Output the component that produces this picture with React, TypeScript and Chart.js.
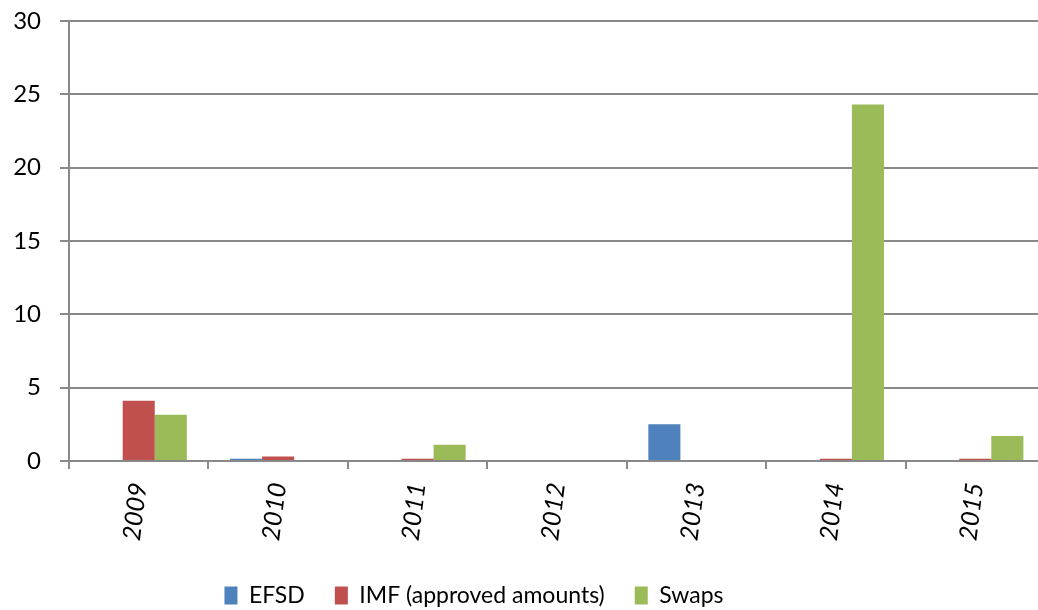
import React, { useEffect, useRef } from "react";
import { Chart, registerables } from "chart.js";

Chart.register(...registerables);

const categories = ["2009", "2010", "2011", "2012", "2013", "2014", "2015"];
const efsdValues = [0, 0.15, 0, 0, 2.5, 0, 0];
const imfValues = [4.1, 0.3, 0.15, 0, 0, 0.15, 0.15];
const swapsValues = [3.15, 0, 1.1, 0, 0, 24.3, 1.7];
const seriesNames = ["EFSD", "IMF (approved amounts)", "Swaps"];
const seriesColors = ["#4F81BD", "#C0504D", "#9BBB59"];

const FONT = "Lato, 'Open Sans', sans-serif";
const GRID = "#898989";
const CANVAS_W = 1050;
const CANVAS_H = 610;
const PLOT_LEFT = 69;
const PLOT_TOP = 21;
const PLOT_BOTTOM = 461;
const LEGEND_RIGHT = 948;
const LEGEND_DROP = 7;

const legendShift = {
  id: "legendShift",
  afterLayout(chart: any) {
    const lg = chart.legend;
    if (!lg) return;
    lg.left = 0;
    lg.right = LEGEND_RIGHT;
    lg.width = LEGEND_RIGHT;
    lg.top += LEGEND_DROP;
    lg.bottom += LEGEND_DROP;
  },
};

export default function App() {
  const ref = useRef<HTMLCanvasElement | null>(null);

  useEffect(() => {
    if (!ref.current) return;
    const chart = new Chart(ref.current, {
      type: "bar",
      data: {
        labels: categories,
        datasets: [efsdValues, imfValues, swapsValues].map((d, i) => ({
          label: seriesNames[i],
          data: d,
          backgroundColor: seriesColors[i],
          borderWidth: 0,
          barPercentage: 1,
          categoryPercentage: 0.69,
        })),
      },
      options: {
        responsive: false,
        animation: false,
        layout: { padding: { left: 0, right: CANVAS_W - 1045, top: PLOT_TOP, bottom: 0 } },
        plugins: {
          legend: {
            position: "bottom",
            labels: {
              boxWidth: 13,
              boxHeight: 18,
              padding: 30,
              color: "#000",
              font: { family: FONT, size: 23 },
            },
          },
          tooltip: { enabled: false },
        },
        scales: {
          x: {
            offset: true,
            grid: {
              offset: true,
              drawOnChartArea: false,
              drawTicks: true,
              tickLength: 8,
              color: GRID,
              lineWidth: 2,
            },
            border: { display: true, color: GRID, width: 2 },
            ticks: {
              minRotation: 83,
              maxRotation: 83,
              padding: 12,
              color: "#000",
              font: { family: FONT, size: 25, style: "italic" },
            },
            afterFit(scale: any) {
              const lgH = scale.chart.legend ? scale.chart.legend.height : 0;
              scale.height = CANVAS_H - PLOT_BOTTOM - lgH;
            },
          },
          y: {
            min: 0,
            max: 30,
            ticks: {
              stepSize: 5,
              padding: 19,
              color: "#000",
              font: { family: FONT, size: 24 },
            },
            grid: {
              color: GRID,
              lineWidth: 2,
              tickLength: 9,
              drawTicks: true,
            },
            border: { display: true, color: GRID, width: 2 },
            afterFit(scale: any) {
              scale.width = PLOT_LEFT;
              scale.paddingTop = 0;
              scale.paddingBottom = 0;
            },
          },
        },
      },
      plugins: [legendShift],
    });
    return () => chart.destroy();
  }, []);

  return (
    <div
      style={{
        position: "fixed",
        left: 0,
        top: 0,
        width: "100vw",
        height: CANVAS_H,
        overflow: "hidden",
        background: "#fff",
      }}
    >
      <canvas ref={ref} width={CANVAS_W} height={CANVAS_H} style={{ display: "block" }} />
    </div>
  );
}
